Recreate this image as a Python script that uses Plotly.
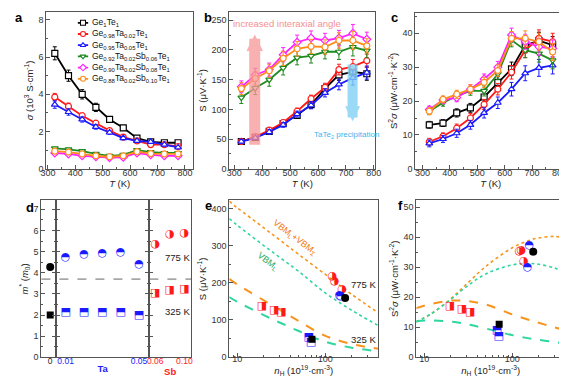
import plotly.graph_objects as go

W, H = 567, 378
FONT = "Arial, Liberation Sans, sans-serif"
GLYPH_FONT = "DejaVu Sans"

# ---------------- data: panels a-c ----------------
T = [325, 375, 425, 475, 525, 575, 625, 675, 725, 775]
names = ["Ge<sub>1</sub>Te<sub>1</sub>",
         "Ge<sub>0.98</sub>Ta<sub>0.02</sub>Te<sub>1</sub>",
         "Ge<sub>0.95</sub>Ta<sub>0.05</sub>Te<sub>1</sub>",
         "Ge<sub>0.92</sub>Ta<sub>0.02</sub>Sb<sub>0.06</sub>Te<sub>1</sub>",
         "Ge<sub>0.90</sub>Ta<sub>0.02</sub>Sb<sub>0.08</sub>Te<sub>1</sub>",
         "Ge<sub>0.88</sub>Ta<sub>0.02</sub>Sb<sub>0.10</sub>Te<sub>1</sub>"]
colors = ["#000000", "#ff1a1a", "#1a1aff", "#1f8a1f", "#ff22ff", "#ff8c1a"]
symbols = ["square", "circle", "triangle-up", "triangle-down", "diamond", "circle"]

sigma_GeTe = [6.2, 5.0, 4.0, 3.3, 2.65, 2.2, 1.65, 1.45, 1.4, 1.4]
sigma_Ta02 = [3.85, 3.35, 2.85, 2.45, 2.05, 1.7, 1.5, 1.3, 1.3, 1.2]
sigma_Ta05 = [3.45, 3.05, 2.65, 2.25, 1.95, 1.65, 1.5, 1.45, 1.3, 1.15]
sigma_Sb06 = [1.1, 1.05, 0.95, 0.8, 0.7, 0.75, 1.0, 0.9, 0.85, 0.85]
sigma_Sb08 = [0.85, 0.8, 0.7, 0.65, 0.6, 0.62, 0.85, 0.75, 0.7, 0.7]
sigma_Sb10 = [0.95, 0.9, 0.8, 0.7, 0.65, 0.7, 0.92, 0.82, 0.8, 0.8]
sigma_err_GeTe = [0.35, 0.3, 0.25, 0.22, 0.15, 0.12, 0.1, 0.08, 0.08, 0.08]
sigma_err_Ta02 = [0.2, 0.18, 0.15, 0.13, 0.11, 0.09, 0.08, 0.07, 0.07, 0.06]
sigma_err_Ta05 = [0.2, 0.17, 0.14, 0.12, 0.1, 0.09, 0.08, 0.07, 0.07, 0.06]
sigma_err_Sb = [0.06, 0.06, 0.05, 0.05, 0.04, 0.04, 0.05, 0.05, 0.04, 0.04]

S_GeTe = [46, 53, 63, 76, 90, 108, 135, 158, 163, 160]
S_Ta02 = [46, 54, 65, 78, 97, 118, 137, 167, 172, 182]
S_Ta05 = [46, 52, 62, 74, 92, 107, 128, 142, 153, 162]
S_Sb06 = [120, 136, 150, 170, 187, 190, 197, 197, 205, 199]
S_Sb08 = [138, 158, 167, 192, 213, 220, 216, 220, 228, 218]
S_Sb10 = [135, 152, 165, 186, 202, 206, 205, 216, 216, 207]
S_err_low = [3, 3, 4, 4, 5, 6, 7, 9, 12, 11]
S_err_high = [10, 11, 11, 12, 12, 12, 12, 13, 15, 12]

PF_GeTe = [13.0, 13.5, 16.5, 18.0, 21.2, 25.5, 29.5, 36.5, 37.8, 36.5]
PF_Ta02 = [8.0, 9.6, 12.0, 15.0, 19.0, 23.5, 28.5, 35.0, 38.5, 37.5]
PF_Ta05 = [7.5, 8.8, 10.5, 13.0, 16.5, 19.5, 23.5, 28.2, 29.8, 30.5]
PF_Sb06 = [17.0, 19.5, 21.5, 23.0, 23.0, 28.0, 38.0, 35.0, 34.0, 32.0]
PF_Sb08 = [17.5, 20.3, 21.0, 23.5, 26.5, 30.0, 39.5, 37.5, 36.0, 35.5]
PF_Sb10 = [17.0, 20.5, 22.0, 23.5, 25.5, 29.0, 38.5, 38.5, 37.5, 34.5]
PF_err = [1.0, 1.0, 1.2, 1.3, 1.5, 1.7, 2.0, 2.2, 2.5, 2.5]

sigma_all = [sigma_GeTe, sigma_Ta02, sigma_Ta05, sigma_Sb06, sigma_Sb08, sigma_Sb10]
sigma_err_all = [sigma_err_GeTe, sigma_err_Ta02, sigma_err_Ta05, sigma_err_Sb, sigma_err_Sb, sigma_err_Sb]
S_all = [S_GeTe, S_Ta02, S_Ta05, S_Sb06, S_Sb08, S_Sb10]
S_err_all = [S_err_low, S_err_low, S_err_low, S_err_high, S_err_high, S_err_high]
PF_all = [PF_GeTe, PF_Ta02, PF_Ta05, PF_Sb06, PF_Sb08, PF_Sb10]

# ---------------- data: panel d ----------------
GeTe_x = [0]
m_GeTe_775 = [4.27]
m_GeTe_325 = [2.0]
Ta_x = [0.01, 0.02, 0.03, 0.04, 0.05]
m_Ta_775 = [4.75, 4.88, 4.92, 4.95, 4.42]
m_Ta_325 = [2.12, 2.15, 2.15, 2.15, 1.98]
Sb_x = [0.06, 0.08, 0.10]
m_Sb_775 = [5.35, 5.83, 5.87]
m_Sb_325 = [3.05, 3.18, 3.2]
m_divider = 3.7

# ---------------- data: panels e, f ----------------
n_curve_e = [8.1, 10, 20, 31.6, 50, 100, 200, 400]
S_775_LS = [420, 402, 348, 312, 276, 222, 168, 118]
S_775_L = [373, 355, 300, 265, 230, 172, 125, 84]
S_325_LS = [210, 195, 152, 124, 96, 56, 34, 21]
S_325_L = [161, 148, 112, 90, 69, 40, 24, 14]

n_curve_f = [8.1, 12, 20, 30, 50, 100, 150, 200, 300, 400]
PF_775_LS = [11.8, 14.5, 19.5, 24.3, 30.3, 36.5, 38.8, 39.8, 40.3, 39.8]
PF_775_L = [11.8, 14.5, 19.3, 23.5, 27.8, 30.8, 31.3, 31.0, 29.8, 28.2]
PF_325_LS = [16.4, 17.8, 18.9, 18.8, 17.6, 14.3, 12.6, 11.5, 10.0, 9.0]
PF_325_L = [12.0, 12.3, 11.9, 11.1, 9.6, 7.4, 6.4, 5.8, 5.1, 4.6]

e_red_n_775 = [120, 127, 155]; e_red_S_775 = [218, 203, 182]
e_blue_n_775 = [145, 150]; e_blue_S_775 = [166, 163]
e_black_n_775 = [168]; e_black_S_775 = [158]
e_red_n_325 = [19.1, 26.2, 31.8]; e_red_S_325 = [136, 124, 120]
e_blue_n_325 = [64.7, 68.7]; e_blue_S_325 = [51, 40]
e_black_n_325 = [70.5]; e_black_S_325 = [47]

f_red_n_775 = [120, 127, 135]; f_red_PF_775 = [35.2, 35.8, 32.1]
f_blue_n_775 = [156, 149]; f_blue_PF_775 = [37.3, 30.1]
f_black_n_775 = [173]; f_black_PF_775 = [35.2]
f_red_n_325 = [19.6, 26.9, 33.3]; f_red_PF_325 = [17.1, 15.9, 15.1]
f_blue_n_325 = [67, 70]; f_blue_PF_325 = [9.0, 7.0]
f_black_n_325 = [71]; f_black_PF_325 = [11.0]

ORANGE_C = "#f7941d"
GREEN_C = "#2fd6a0"
BLUE_D = "#1a1aff"
RED_D = "#ff1a1a"
# half-filled marker glyphs
G_CIRC_TOP = "\u25D3"   # circle, upper half filled
G_CIRC_RIGHT = "\u25D1"  # circle, right half filled
G_SQ_TOP = "\u2B12"     # square, upper half filled
G_SQ_RIGHT = "\u25E8"   # square, right half filled


def xd(a, b):
    return [a / W, b / W]


def yd(top, bottom):
    return [1 - bottom / H, 1 - top / H]


fig = go.Figure()

# ---------- panels a, b, c ----------
for ax, data, errs in [("", sigma_all, sigma_err_all), ("2", S_all, S_err_all),
                       ("3", PF_all, [PF_err] * 6)]:
    for i in range(6):
        fig.add_trace(go.Scatter(
            x=T, y=data[i], mode="lines+markers",
            line=dict(color=colors[i], width=1.8),
            marker=dict(symbol=symbols[i], size=6, color="white",
                        line=dict(color=colors[i], width=1.2)),
            error_y=dict(type="data", array=errs[i], color=colors[i], thickness=1, width=2),
            xaxis="x" + ax, yaxis="y" + ax, showlegend=False))

# ---------- custom legend in panel a ----------
for i in range(6):
    fig.add_trace(go.Scatter(x=[0, 1], y=[i, i], mode="lines",
                             line=dict(color=colors[i], width=1.8),
                             xaxis="x9", yaxis="y9", showlegend=False, hoverinfo="skip"))
    fig.add_trace(go.Scatter(x=[0.5], y=[i], mode="markers",
                             marker=dict(symbol=symbols[i], size=5, color="white",
                                         line=dict(color=colors[i], width=1.1)),
                             xaxis="x9", yaxis="y9", showlegend=False, hoverinfo="skip"))


def glyphs(xs, ys, g, col, ax, size=11):
    return go.Scatter(x=xs, y=ys, mode="text", text=[g] * len(xs), textposition="middle center",
                      textfont=dict(family=GLYPH_FONT, size=size, color=col),
                      xaxis="x" + ax, yaxis="y" + ax, showlegend=False, hoverinfo="skip")


# ---------- panel d ----------
fig.add_trace(go.Scatter(x=GeTe_x, y=m_GeTe_775, mode="markers",
                         marker=dict(symbol="circle", size=8, color="black"),
                         xaxis="x4", yaxis="y4", showlegend=False))
fig.add_trace(go.Scatter(x=GeTe_x, y=m_GeTe_325, mode="markers",
                         marker=dict(symbol="square", size=7, color="black"),
                         xaxis="x4", yaxis="y4", showlegend=False))
fig.add_trace(glyphs(Ta_x, m_Ta_775, G_CIRC_TOP, BLUE_D, "5"))
fig.add_trace(glyphs(Ta_x, m_Ta_325, G_SQ_TOP, BLUE_D, "5"))
fig.add_trace(glyphs(Sb_x, m_Sb_775, G_CIRC_RIGHT, RED_D, "6"))
fig.add_trace(glyphs(Sb_x, m_Sb_325, G_SQ_RIGHT, RED_D, "6"))

# ---------- panels e, f: model curves ----------
for ax, nx, curves in [("7", n_curve_e, [S_775_LS, S_775_L, S_325_LS, S_325_L]),
                       ("8", n_curve_f, [PF_775_LS, PF_775_L, PF_325_LS, PF_325_L])]:
    styles = [(ORANGE_C, "dot", 1.6), (GREEN_C, "dot", 1.6),
              (ORANGE_C, "dash", 2.0), (GREEN_C, "dash", 2.0)]
    for cv, (c, d, w) in zip(curves, styles):
        fig.add_trace(go.Scatter(x=nx, y=cv, mode="lines", line=dict(color=c, dash=d, width=w, shape="spline"),
                                 xaxis="x" + ax, yaxis="y" + ax, showlegend=False, hoverinfo="skip"))

for ax, pts in [("7", [(e_red_n_325, e_red_S_325, G_SQ_RIGHT, RED_D),
                       (e_blue_n_325, e_blue_S_325, G_SQ_TOP, BLUE_D),
                       (e_black_n_325, e_black_S_325, "square", "black"),
                       (e_red_n_775, e_red_S_775, G_CIRC_RIGHT, RED_D),
                       (e_blue_n_775, e_blue_S_775, G_CIRC_TOP, BLUE_D),
                       (e_black_n_775, e_black_S_775, "circle", "black")]),
                ("8", [(f_red_n_325, f_red_PF_325, G_SQ_RIGHT, RED_D),
                       (f_blue_n_325, f_blue_PF_325, G_SQ_TOP, BLUE_D),
                       (f_black_n_325, f_black_PF_325, "square", "black"),
                       (f_red_n_775, f_red_PF_775, G_CIRC_RIGHT, RED_D),
                       (f_blue_n_775, f_blue_PF_775, G_CIRC_TOP, BLUE_D),
                       (f_black_n_775, f_black_PF_775, "circle", "black")])]:
    for nx, yy, sym, col in pts:
        if sym in ("square", "circle"):
            fig.add_trace(go.Scatter(x=nx, y=yy, mode="markers",
                                     marker=dict(symbol=sym, size=7 if sym == "square" else 8, color=col),
                                     xaxis="x" + ax, yaxis="y" + ax, showlegend=False))
        else:
            fig.add_trace(glyphs(nx, yy, sym, col, ax))

# ---------- axes ----------
tickf = dict(family=FONT, size=9, color="#333")
titlef = dict(family=FONT, size=9.5, color="#222")
MINOR = dict(ticks="inside", ticklen=2, tickcolor="#555")
base = dict(showline=True, linecolor="#555", linewidth=1, mirror=True, ticks="inside",
            ticklen=4, tickcolor="#555", showgrid=False, zeroline=False, tickfont=tickf,
            ticklabeloverflow="allow")


def ax_(**kw):
    d = dict(base)
    d.update(kw)
    return d


def mn(step):
    d = dict(MINOR)
    d["dtick"] = step
    return d


TOP = yd(4, 163)
BOT = yd(195, 354)
XSO = -5
XSO_B = -7
XSO_D = -5
TT = dict(text="<i>T</i> (K)", font=titlef, standoff=0)
NT = dict(text="<i>n</i><sub>H</sub> (10<sup>19</sup>·cm<sup>-3</sup>)", font=titlef, standoff=0)
LOGMINOR = dict(tickvals=[9, 20, 30, 40, 50, 60, 70, 80, 90, 200, 300, 400], **MINOR)
layout = dict(
    width=W, height=H, autosize=False, margin=dict(l=0, r=0, t=0, b=0),
    plot_bgcolor="white", paper_bgcolor="white", font=dict(family=FONT),
    xaxis=ax_(domain=xd(33, 183), anchor="y", range=[294, 830], dtick=100, minor=mn(50),
              ticklabelstandoff=XSO, title=TT),
    yaxis=ax_(domain=TOP, anchor="x", range=[0, 8.42], dtick=2, minor=mn(1),
              title=dict(text="<i>σ</i> (10<sup>3</sup> S·cm<sup>-1</sup>)", font=titlef, standoff=3)),
    xaxis2=ax_(domain=xd(220, 369), anchor="y2", range=[282, 805], dtick=100, minor=mn(50),
               ticklabelstandoff=XSO, title=TT),
    yaxis2=ax_(domain=TOP, anchor="x2", range=[0, 264], dtick=50, minor=mn(25),
               title=dict(text="S (μV·K<sup>-1</sup>)", font=titlef, standoff=3)),
    xaxis3=ax_(domain=xd(410, 564), anchor="y3", range=[274, 824], dtick=100, minor=mn(50),
               ticklabelstandoff=XSO, title=TT),
    yaxis3=ax_(domain=yd(5, 163), anchor="x3", range=[0, 46], dtick=10, minor=mn(5),
               title=dict(text="S<sup>2</sup><i>σ</i> (μW·cm<sup>-1</sup>·K<sup>-2</sup>)", font=titlef, standoff=3)),
    # panel d segments
    xaxis4=ax_(domain=xd(28, 43), anchor="y4", range=[-0.6, 0.4], tickvals=[0], ticktext=["0"],
               ticks="", ticklabelstandoff=XSO_D, tickfont=dict(family=FONT, size=8.5, color="#222")),
    yaxis4=ax_(domain=BOT, anchor="x4", range=[0, 7.42], dtick=1, mirror="ticks", minor=mn(0.5),
               title=dict(text="<i>m</i><sup>*</sup> (<i>m</i><sub>0</sub>)", font=titlef, standoff=3)),
    xaxis5=ax_(domain=xd(43, 138), anchor="y5", range=[0.0048, 0.0555], tickvals=[0.01, 0.05],
               ticktext=["0.01", "0.05"], ticks="", ticklabelstandoff=XSO_D,
               tickfont=dict(family=FONT, size=8.5, color=BLUE_D),
               title=dict(text="<b>Ta</b>", font=dict(family=FONT, size=9.5, color=BLUE_D), standoff=0)),
    yaxis5=ax_(domain=BOT, anchor="x5", matches="y4", range=[0, 7.42], dtick=1, mirror="ticks",
               showticklabels=False, minor=mn(0.5)),
    xaxis6=ax_(domain=xd(138, 181), anchor="y6", range=[0.0515, 0.1094], tickvals=[0.06, 0.10],
               ticktext=["0.06", "0.10"], ticks="", ticklabelstandoff=XSO_D,
               tickfont=dict(family=FONT, size=8.5, color=RED_D),
               title=dict(text="<b>Sb</b>", font=dict(family=FONT, size=9.5, color=RED_D), standoff=0)),
    yaxis6=ax_(domain=BOT, anchor="x6", matches="y4", range=[0, 7.42], dtick=1, mirror=True,
               showticklabels=False, minor=mn(0.5)),
    # panels e, f
    xaxis7=ax_(domain=xd(220, 372), anchor="y7", type="log", range=[0.91, 2.6],
               tickvals=[10, 100], ticktext=["10", "100"], minor=LOGMINOR,
               ticklabelstandoff=XSO_B, title=NT),
    yaxis7=ax_(domain=BOT, anchor="x7", range=[-2, 422], dtick=100, minor=mn(50),
               title=dict(text="S (μV·K<sup>-1</sup>)", font=titlef, standoff=3)),
    xaxis8=ax_(domain=xd(411, 563), anchor="y8", type="log", range=[0.91, 2.6],
               tickvals=[10, 100], ticktext=["10", "100"], minor=LOGMINOR,
               ticklabelstandoff=XSO_B, title=NT),
    yaxis8=ax_(domain=BOT, anchor="x8", range=[0, 52.3], dtick=10, minor=mn(5),
               title=dict(text="S<sup>2</sup><i>σ</i> (μW·cm<sup>-1</sup>·K<sup>-2</sup>)", font=titlef, standoff=3)),
    # legend overlay axes
    xaxis9=dict(domain=xd(65, 76), anchor="y9", range=[0, 1], visible=False),
    yaxis9=dict(domain=yd(9.3, 77.4), anchor="x9", range=[5.5, -0.5], visible=False),
)
fig.update_layout(**layout)

ann = []
for i, nm in enumerate(names):
    ann.append(dict(text=nm, xref="paper", yref="y9", x=78 / W, y=i, xanchor="left", yanchor="middle",
                    showarrow=False, font=dict(family=FONT, size=8.5, color="#111")))
for lab, x, y in [("a", 5, 10), ("b", 198, 10), ("c", 389, 10), ("d", 16, 202), ("e", 199, 200), ("f", 395, 200)]:
    ann.append(dict(text="<b>%s</b>" % lab, xref="paper", yref="paper", x=x / W, y=1 - y / H,
                    xanchor="center", yanchor="middle", showarrow=False,
                    font=dict(family=FONT, size=13, color="black")))
# arrows in b
ann.append(dict(x=373, y=226, ax=373, ay=38, xref="x2", yref="y2", axref="x2", ayref="y2", text="",
                showarrow=True, arrowhead=2, arrowsize=0.3, arrowwidth=11,
                arrowcolor="rgba(248,150,150,0.75)"))
ann.append(dict(x=724, y=80, ax=724, ay=178, xref="x2", yref="y2", axref="x2", ayref="y2", text="",
                showarrow=True, arrowhead=2, arrowsize=0.3, arrowwidth=10,
                arrowcolor="rgba(130,210,245,0.8)"))
ann.append(dict(text="increased interaxial angle", x=489, y=244, xref="x2", yref="y2", showarrow=False,
                font=dict(family=FONT, size=9.5, color="#f59090")))
ann.append(dict(text="TaTe<sub>2</sub> precipitation", x=702, y=57, xref="x2", yref="y2", showarrow=False,
                font=dict(family=FONT, size=8, color="#3ab5f0")))
# d labels
ann.append(dict(text="775 K", x=0.0906, y=4.72, xref="x6", yref="y6", showarrow=False,
                font=dict(family=FONT, size=9.5, color="#222")))
ann.append(dict(text="325 K", x=0.0906, y=2.15, xref="x6", yref="y6", showarrow=False,
                font=dict(family=FONT, size=9.5, color="#222")))
# e labels
ann.append(dict(text="VBM<sub>L</sub>+VBM<sub>Σ</sub>", x=1.652, y=322, xref="x7", yref="y7", showarrow=False,
                textangle=37, font=dict(family=FONT, size=9, color="#f07a20")))
ann.append(dict(text="VBM<sub>L</sub>", x=1.344, y=256, xref="x7", yref="y7", showarrow=False,
                textangle=37, font=dict(family=FONT, size=9, color="#2eaa60")))
ann.append(dict(text="775 K", x=2.43, y=195, xref="x7", yref="y7", showarrow=False,
                font=dict(family=FONT, size=9.5, color="#222")))
ann.append(dict(text="325 K", x=2.43, y=47, xref="x7", yref="y7", showarrow=False,
                font=dict(family=FONT, size=9.5, color="#222")))
fig.update_layout(annotations=ann)

fig.add_shape(type="line", xref="paper", yref="y4", x0=28 / W, x1=181 / W, y0=m_divider, y1=m_divider,
              line=dict(color="#666", width=1, dash="dash"))

fig.write_html("out.html")
